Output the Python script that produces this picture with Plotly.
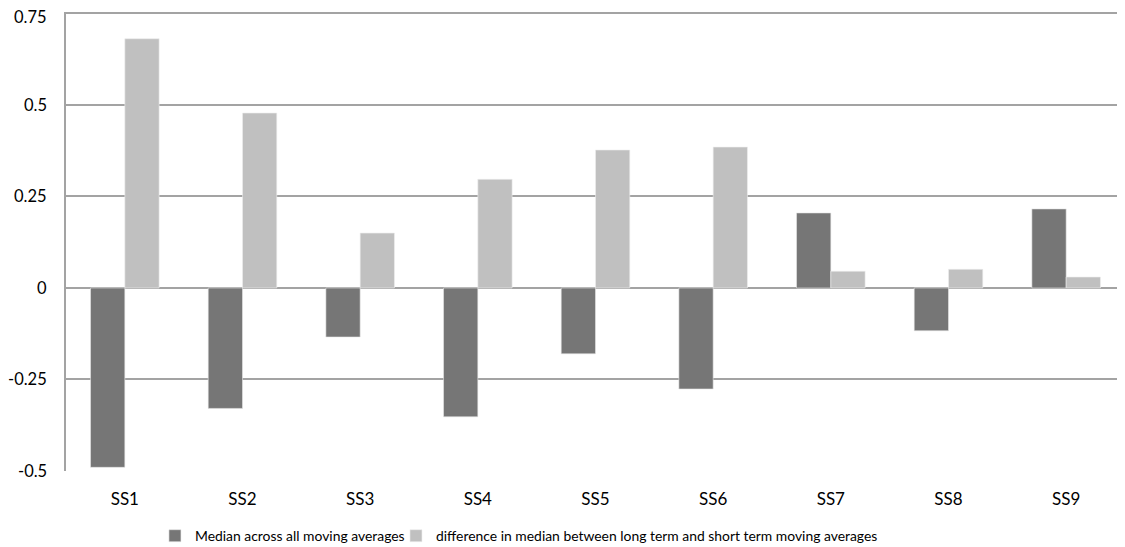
import plotly.graph_objects as go

categories = ["SS1", "SS2", "SS3", "SS4", "SS5", "SS6", "SS7", "SS8", "SS9"]
median_all = [-0.490, -0.329, -0.134, -0.352, -0.180, -0.276, 0.205, -0.117, 0.216]
diff_median = [0.681, 0.478, 0.150, 0.297, 0.377, 0.385, 0.046, 0.051, 0.030]
tick_vals = [0.75, 0.5, 0.25, 0, -0.25, -0.5]
tick_text = ["0.75", "0.5", "0.25", "0", "-0.25", "-0.5"]

FONT = "Lato, 'Open Sans', sans-serif"

fig = go.Figure()
fig.add_trace(go.Bar(
    x=categories, y=median_all, name="Median across all moving averages",
    marker=dict(color="#767676", line=dict(color="#e8e8e8", width=0.6)),
    legend="legend",
))
fig.add_trace(go.Bar(
    x=categories, y=diff_median,
    name="difference in median between long term and short term moving averages",
    marker=dict(color="#c0c0c0", line=dict(color="#eeeeee", width=0.6)),
    legend="legend2",
))

legend_common = dict(
    orientation="h", yanchor="middle", y=-0.142,
    font=dict(family=FONT, size=13.9, color="#000000"),
    itemwidth=30, bgcolor="rgba(0,0,0,0)", borderwidth=0,
)

# y tick labels as right-aligned annotations next to the axis
y_labels = [
    dict(x=0, xref="paper", xanchor="right", xshift=-18,
         y=v, yref="y", yanchor="middle", yshift=(-4 if v == max(tick_vals) else 0),
         text=t, showarrow=False, borderpad=0,
         font=dict(family=FONT, size=16.5, color="#000000"))
    for v, t in zip(tick_vals, tick_text)
]

# page body has an 8px default margin, so the figure is sized/offset to compensate
fig.update_layout(
    width=1117, height=539,
    margin=dict(l=58, r=0, t=3.5, b=76, autoexpand=False),
    paper_bgcolor="white", plot_bgcolor="white",
    barmode="group", bargap=0.417, bargroupgap=0,
    font=dict(family=FONT, size=17, color="#000000"),
    showlegend=True,
    legend=dict(x=0.084, xanchor="left", **legend_common),
    legend2=dict(x=0.3116, xanchor="left", **legend_common),
    annotations=y_labels,
    xaxis=dict(
        showgrid=False, showline=False, ticks="",
        tickfont=dict(family=FONT, size=17), ticklabelstandoff=16,
    ),
    yaxis=dict(
        range=[-0.5, 0.754], tickvals=tick_vals, showticklabels=False,
        showgrid=True, gridcolor="#a3a3a3", gridwidth=1.5,
        zeroline=True, zerolinecolor="#a3a3a3", zerolinewidth=1.5,
        showline=True, linecolor="#a3a3a3", linewidth=1.5, ticks="",
    ),
)

fig.write_html("out.html")
